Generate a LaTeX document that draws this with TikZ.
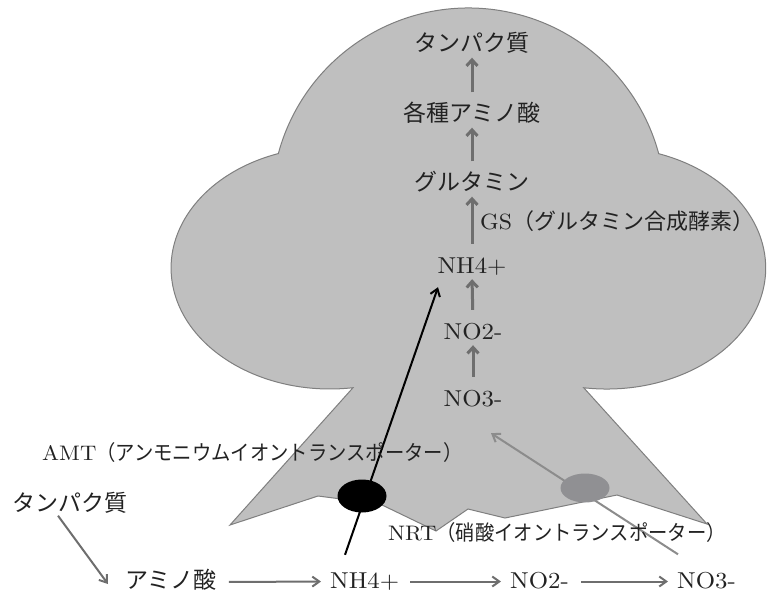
\documentclass[tikz,border=0pt]{standalone}
\usepackage{fontspec}
\usetikzlibrary{arrows.meta,shapes.geometric}
\setmainfont{lmroman10-regular.otf}[FakeStretch=1.08]
\newfontfamily\jp{Noto Sans CJK JP}
\newfontfamily\jpn[FakeStretch=0.92]{Noto Sans CJK JP}
\newcommand\fbig{\fontsize{23}{28}\selectfont}
\newcommand\fmid{\fontsize{21}{25}\selectfont}
\newcommand\fgs{\fontsize{22}{26}\selectfont}
\definecolor{cloudfill}{HTML}{BFBFBF}
\definecolor{cloudline}{HTML}{7F7F7F}
\definecolor{flow}{HTML}{6E6E6E}
\definecolor{nrtline}{HTML}{8C8C8C}
\definecolor{nrtbody}{HTML}{909093}
\definecolor{txt}{HTML}{222222}
\tikzset{
  lbl/.style={inner sep=0pt, text height=17pt, text depth=4pt, text=txt, font=\fbig},
  lbls/.style={inner sep=0pt, text height=16pt, text depth=4pt, text=txt, font=\fmid},
  uparr/.style={draw=flow, line width=3pt, -{Straight Barb[length=6pt,width=11pt]},
    shorten <=12pt, shorten >=2pt},
  rowarr/.style={draw=flow, line width=2pt, -{Straight Barb[length=7pt,width=10pt]}},
  transp/.style={ellipse, inner sep=0pt, draw=none},
}
\begin{document}
\begin{tikzpicture}[x=1pt,y=-1pt]
\useasboundingbox (0,0) rectangle (773,595);

% plant body: three-lobed crown with a jagged root base
\path[fill=cloudfill, draw=cloudline, line width=1pt, line join=miter]
  (468.5,205) ++(195.1:197)
  arc[start angle=195.1, end angle=344.9, radius=197]
  arc[start angle=289.1, end angle=458.3, x radius=159, y radius=121]
  -- (707,524) -- (617,495) -- (505,518) -- (468,509) -- (436,531)
  -- (380,504) -- (318,496) -- (230,525) -- (353,387.7)
  arc[start angle=81.7, end angle=250.9, x radius=159, y radius=121]
  -- cycle;

% assimilation chain inside the plant
\node[lbl, anchor=base] (tp)  at (472,51.5)  {\jp タンパク質};
\node[lbl, anchor=base] (aa)  at (472,121.5) {\jp 各種アミノ酸};
\node[lbl, anchor=base] (gln) at (472,190.5) {\jp グルタミン};
\node[lbl, anchor=base] (nh4) at (472,273)   {NH4+};
\node[lbl, anchor=base] (no2) at (473,339)   {NO2-};
\node[lbl, anchor=base] (no3) at (473,406)   {NO3-};
\node[lbls, font=\fgs, anchor=base west] (gs) at (480,229) {GS{\jp （グルタミン合成酵素）}};

\draw[uparr] (aa.north)  -- (tp.south);
\draw[uparr] (gln.north) -- (aa.south);
\draw[uparr] (nh4.north) -- (gln.south);
\draw[uparr] (no2.north) -- (nh4.south);
\draw[uparr] (no3.north) -- (no2.south);

% soil side
\node[lbl, anchor=base] (ltp) at (70,511.5) {\jp タンパク質};
\node[lbl, anchor=base west] (bamino) at (125,588.5) {\jp アミノ酸};
\node[lbl, anchor=base west] (bnh4)   at (330,588)   {NH4+};
\node[lbl, anchor=base west] (bno2)   at (510,588)   {NO2-};
\node[lbl, anchor=base west] (bno3)   at (677,588)   {NO3-};

\draw[rowarr, shorten <=12pt, shorten >=9pt] (bamino.east) -- (bnh4.west);
\draw[rowarr, shorten <=11pt, shorten >=9pt] (bnh4.east) -- (bno2.west);
\draw[rowarr, shorten <=12pt, shorten >=9pt] (bno2.east) -- (bno3.west);
\draw[rowarr] ([xshift=-12pt]ltp.south) -- ([shift={(-17pt,-2pt)}]bamino.west);

% transporters
\draw[line width=2pt, black, -{Straight Barb[length=7pt,width=10pt]}]
  ([shift={(15,-16)}]bnh4.north west) -- ([shift={(-34,10)}]nh4.south);
\draw[line width=2pt, nrtline, -{Straight Barb[length=7pt,width=10pt]}]
  ([shift={(1,-16.5)}]bno3.north west) -- ([shift={(18,23)}]no3.south);
\node[transp, fill=black, minimum width=49pt, minimum height=33pt] (amt) at (362,496) {};
\node[transp, fill=nrtbody, minimum width=49pt, minimum height=29pt] (nrt) at (585,488) {};

\node[lbls, anchor=base west] (amtl) at (42,460) {AMT{\jpn （アンモニウムイオントランスポーター）}};
\node[lbls, anchor=base west] (nrtl) at (388,540) {NRT{\jpn （硝酸イオントランスポーター）}};
\end{tikzpicture}
\end{document}
